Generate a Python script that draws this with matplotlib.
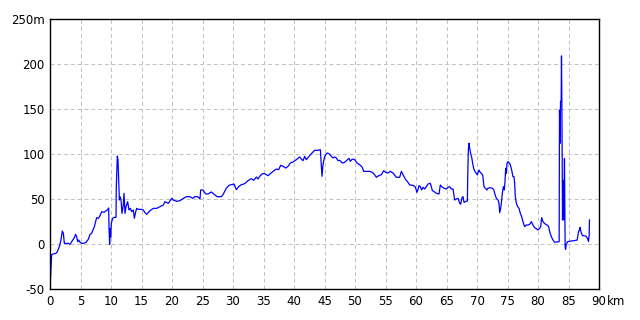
import matplotlib
matplotlib.use("Agg")
import matplotlib.pyplot as plt

# distance (km) and elevation (m)
dist_km = [
    0, 0.16, 0.27, 0.55, 0.98, 1.2, 1.53, 1.8, 2.02, 2.19, 2.35, 2.57, 3.0, 3.28,
    3.55, 3.93, 4.2, 4.37, 4.54, 4.7, 4.92, 5.19, 5.46, 5.9, 6.28, 6.56, 6.83,
    7.27, 7.65, 7.92, 8.2, 8.47, 8.85, 9.13, 9.4, 9.62, 9.67, 9.78, 9.84, 9.95,
    10.05, 10.27, 10.49, 10.82, 10.87, 11.04, 11.15, 11.26, 11.37, 11.48, 11.64,
    11.8, 12.02, 12.13, 12.3, 12.46, 12.73, 12.95, 13.17, 13.39, 13.66, 13.83,
    13.99, 14.2, 14.48, 15.03, 15.3, 15.57, 15.85, 16.39, 16.94, 17.49, 18.03,
    18.58, 18.85, 19.4, 19.95, 20.22, 20.77, 21.31, 21.86, 22.4, 22.95, 23.39,
    23.77, 24.2, 24.59, 24.7,
    25.08, 25.52, 25.9, 26.45, 27.0, 27.38, 28.09, 28.36, 28.9, 29.34, 29.73,
    30.16, 30.55, 30.98, 31.37, 31.91, 32.46, 33.0, 33.39, 33.83, 34.1, 34.37,
    34.81, 35.19, 35.74, 36.12, 36.56, 37.1, 37.49, 37.81, 38.2, 38.63, 39.02,
    39.4, 39.84, 40.38, 40.93, 41.2, 41.48, 41.75, 42.02, 42.46, 42.84, 43.39,
    43.93, 44.32, 44.43, 44.59, 44.75, 45.03, 45.41, 45.74, 46.12, 46.39, 46.67,
    46.94, 47.21, 47.49, 47.92, 48.31, 48.58, 49.02, 49.24, 49.56, 49.95, 50.33,
    50.77, 51.2, 51.42, 51.86, 52.4, 52.84, 53.22, 53.5, 53.88, 54.32, 54.7,
    55.03, 55.41, 55.79, 56.23, 56.78, 57.32, 57.6, 57.87, 58.31, 58.69, 58.96,
    59.51, 59.89, 60.16,
    60.33, 60.49, 60.71, 60.93, 61.15, 61.42, 61.69, 61.97, 62.35, 62.51, 62.68,
    63.06, 63.33, 63.77, 63.99, 64.21, 64.59, 64.97, 65.25, 65.52, 65.79, 66.07,
    66.34, 66.61, 66.89, 67.05, 67.16, 67.32, 67.54, 67.7, 67.87, 68.09, 68.42,
    68.47, 68.58, 68.69, 68.8, 68.96, 69.13, 69.29, 69.45, 69.67, 69.89, 70.05,
    70.22, 70.33, 70.44, 70.71, 70.93, 71.15, 71.37, 71.64, 71.8, 72.08, 72.51,
    72.73, 72.9, 73.17, 73.44, 73.61, 73.72, 73.88, 73.99, 74.15, 74.32, 74.48,
    74.59, 74.7, 74.81, 74.92, 75.08, 75.36, 75.52, 75.68, 75.9, 76.07, 76.17,
    76.28, 76.45, 76.67, 76.89, 77.1, 77.32, 77.54, 77.81, 78.09, 78.36, 78.63,
    78.91, 79.18, 79.45, 79.73, 80.0, 80.27, 80.44, 80.6, 80.82, 81.04, 81.26,
    81.48, 81.75, 81.91, 82.19, 82.46, 82.73, 83.47,
    83.52, 83.63, 83.69, 83.8, 83.85, 83.91, 84.02, 84.07, 84.18, 84.23, 84.34,
    84.4, 84.45, 84.51, 84.62, 84.84, 85.38, 85.93, 86.42, 86.64, 86.8, 86.91,
    87.02, 87.3, 87.84, 88.01, 88.17, 88.28, 88.39, 88.44,
]
elev_m = [
    -50, -27, -12, -11, -10.4, -8.5, -3, 4.4, 14.4, 11.9, 0.7, 0.7, 0.7, -0.4,
    2.6, 6.3, 10.7, 8.1, 2.6, 4.4, 1.9, 0.7, 0.7, 1.9, 5.2, 10.7, 11.9,
    19.3, 29.3, 28.5, 31.5, 35.9, 35.2, 36.7, 37.8, 40, 19.3, -0.4, 17.4, 7.4,
    22.9, 28.5, 29.6, 29.6, 63.7, 97.8, 93.3, 71.1, 48.9, 52.6, 49.6,
    34, 43.3, 56.3, 34, 41.5, 47, 37.8, 39.6, 35.9, 37.8, 28.5,
    34, 39.6, 38.5, 38.5, 37.8, 34.8, 33, 37, 39.6, 39.6, 41.5,
    43.3, 47, 45.2, 50.7, 48.9, 47.4, 48.1, 50.7, 52.6, 52.6, 50.7,
    52.6, 52.6, 50, 60,
    60, 55.6, 55.6, 57.8, 54.8, 52.6, 52.6, 54.8, 61.9, 65.2, 65.9,
    66.7, 60.4, 64.1, 65.9, 67, 70.4, 72.6, 70.7, 74.4, 72.2, 75.2,
    78.1, 78.1, 75.9, 78.1, 80.7, 83.3, 82.6, 87.4, 86.3, 84.4, 86.3,
    90, 91.1, 93.7, 96.7, 94.4, 92.6, 97.4, 93.7, 97.4, 100.4, 104.1,
    104.1, 104.8, 91.9, 75.2, 88.1, 97.4, 101.1, 100.4, 97.4, 95.6, 96.7,
    95.6, 92.6, 93, 90, 90.7, 92.6, 95.2, 91.9, 94.4, 93.7, 90,
    88.1, 85.2, 80.7, 80.7, 80.7, 79.6, 77, 74.1, 75.9, 77, 81.5,
    79.6, 78.9, 80.7, 78.9, 74.1, 74.1, 80.7, 77, 71.5, 68.5, 65.6,
    65.2, 63.3, 57.4,
    60.7, 64.8, 63.7, 60, 63, 61.1, 63.7, 66.7, 67.4, 63.7, 59.3,
    57.8, 56.3, 55.6, 65.6, 63.7, 61.9, 61.1, 63, 63.7, 61.1, 61.1,
    48.9, 50, 50.7, 47.8, 45.2, 44.1, 51.5, 52.6, 46.3, 47, 47.8,
    71.1, 104.4, 111.9, 106.3, 100.7, 96.3, 89.6, 84.1, 80.4, 78.5, 76.7,
    80.4, 82.2, 80.4, 78.5, 76.7, 63.7, 61.9, 60, 61.9, 62.6, 61.9,
    60.7, 56.3, 50.7, 48.9, 45.2, 34.8, 39.6, 45.2, 56.3, 63.7, 60,
    69.3, 84.1, 78.5, 89.6, 91.5, 89.6, 86.7, 82.2, 74.8, 74.8, 67.4,
    52.6, 45.2, 41.5, 39.6, 34.1, 30.4, 24.8, 19.3, 21.1, 21.1, 21.9,
    24.8, 21.1, 18.1, 17, 15.6, 17.4, 19.3, 29.3, 24.8, 23, 21.9,
    21.1, 19.3, 13.7, 8.1, 4.4, 1.9, 2.6,
    148.9, 111.9, 158, 160, 209, 160, 26.7, 71, 48.9, 26.7, 95,
    45, -3, -5.9, -1.1, 2.6, 3.3, 3.7, 4.4, 13.7, 15.6, 18.5,
    13.7, 9.3, 8.9, 7.4, 5.2, 3, 10, 26.7,
]

x_ticks = list(range(0, 95, 5))
x_labels = [str(v) for v in x_ticks]
y_ticks = [-50, 0, 50, 100, 150, 200, 250]
y_labels = ["-50", "0", "50", "100", "150", "200", "250m"]

fig = plt.figure(figsize=(6.4, 3.2), dpi=100)
ax = fig.add_axes([50 / 640, 31 / 320, 549 / 640, 270 / 320])

ax.plot(dist_km, elev_m, color="#0000ff", linewidth=0.9)

ax.set_xlim(0, 90)
ax.set_ylim(-50, 250)
ax.set_xticks(x_ticks)
ax.set_xticklabels(x_labels)
ax.set_yticks(y_ticks)
ax.set_yticklabels(y_labels)
ax.tick_params(length=0, labelsize=8.5, pad=4)
ax.annotate("km", xy=(90, 0), xycoords=("data", "axes fraction"),
            xytext=(5.5, -4), textcoords="offset points",
            ha="left", va="top", fontsize=8.5)

ax.grid(True, color="#c0c0c0", linestyle=(0, (4, 3)), linewidth=0.7)
for s in ax.spines.values():
    s.set_color("black")
    s.set_linewidth(1.0)

fig.savefig("out.png", dpi=100)
plt.close(fig)
